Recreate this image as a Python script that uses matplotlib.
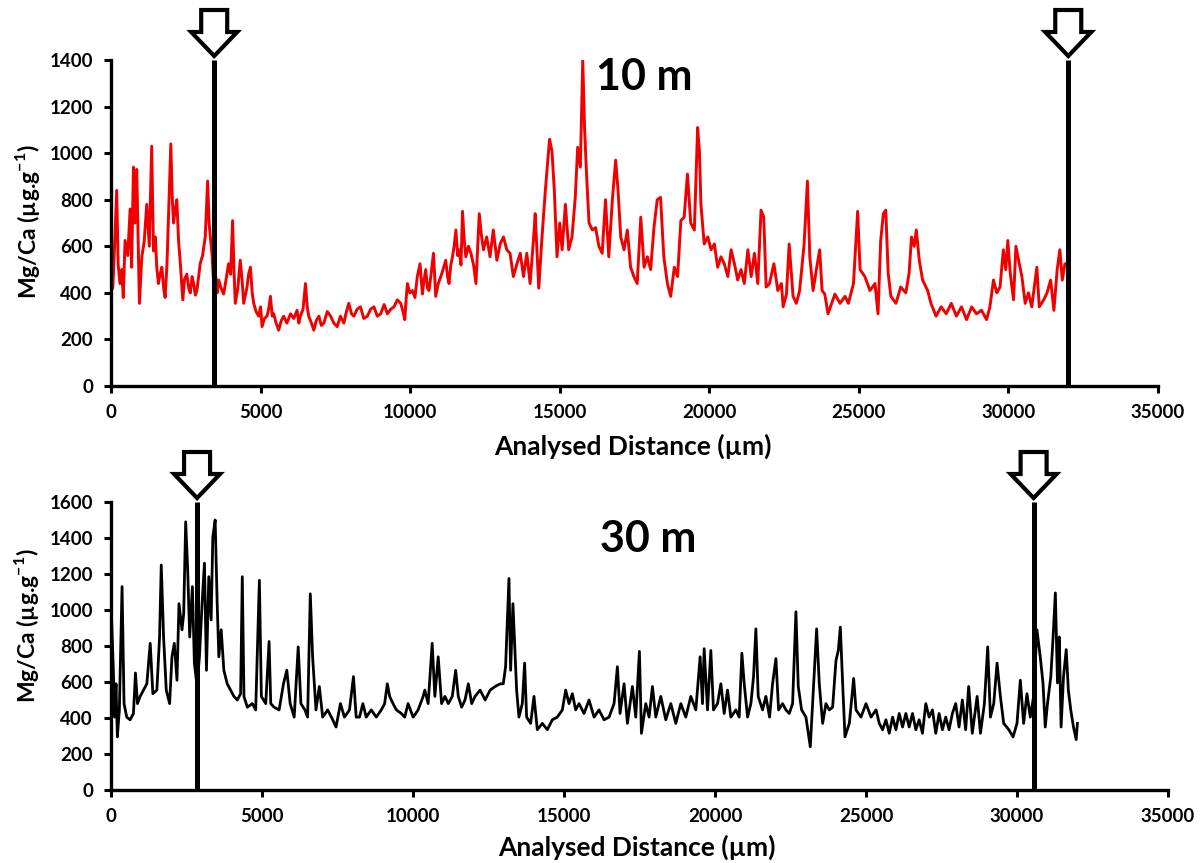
import matplotlib
matplotlib.use("Agg")
import matplotlib.pyplot as plt
import matplotlib.transforms as mtransforms
from matplotlib.patches import Polygon

plt.rcParams['font.family'] = ['Lato', 'DejaVu Sans']
plt.rcParams['font.weight'] = 'bold'
plt.rcParams['mathtext.fontset'] = 'custom'
plt.rcParams['mathtext.rm'] = 'Lato:bold'
plt.rcParams['mathtext.bf'] = 'Lato:bold'

# ---------------- data ----------------
top_x = [0, 60, 120, 190, 240, 300, 360, 410, 470, 560, 640, 690, 750, 800, 860, 910, 950, 1030, 1110, 1195,
         1280, 1360, 1420, 1480, 1530, 1585, 1640, 1700, 1760, 1810, 1870, 1920, 2000, 2050, 2090, 2150, 2200,
         2260, 2310, 2400, 2460, 2535, 2600, 2650, 2710, 2760, 2820, 2870, 2930, 2980, 3060, 3150, 3230, 3280,
         3320, 3380, 3430, 3500, 3550, 3600, 3680, 3765, 3850, 3930, 4000, 4065, 4110, 4155, 4240, 4320, 4380,
         4435, 4540, 4600, 4660, 4720, 4770, 4850, 4935, 5000, 5050, 5130, 5215, 5270, 5330, 5390, 5440, 5520,
         5605, 5690, 5775, 5880, 6000, 6110, 6220, 6280, 6330, 6420, 6500, 6560, 6610, 6700, 6780, 6860, 6950,
         7030, 7115, 7230, 7340, 7450, 7560, 7670, 7785, 7870, 7950, 8040, 8120, 8230, 8340, 8450, 8570, 8680,
         8790, 8900, 9015, 9130, 9240, 9350, 9460, 9570, 9685, 9760, 9820, 9870, 9910, 9990, 10075, 10160,
         10240, 10330, 10410, 10460, 10520, 10580, 10630, 10700, 10780, 10855, 10940, 11025, 11100, 11190,
         11250, 11300, 11360, 11415, 11470, 11530, 11590, 11640, 11700, 11750, 11800, 11860, 11950, 12030,
         12120, 12200, 12260, 12310, 12380, 12450, 12560, 12670, 12780, 12900, 13010, 13120, 13230, 13340,
         13450, 13570, 13680, 13790, 13900, 14010, 14130, 14180, 14300, 14400, 14520, 14660, 14740, 14820,
         14910, 15000, 15080, 15190, 15300, 15410, 15520, 15600, 15690, 15770, 15830, 15900, 15980, 16090,
         16200, 16310, 16420, 16530, 16640, 16760, 16870, 16950, 17040, 17150, 17260, 17370, 17480, 17590,
         17710, 17820, 17930, 18040, 18150, 18260, 18370, 18480, 18600, 18710, 18830, 18940, 19050, 19160,
         19270, 19380, 19500, 19610, 19670, 19720, 19830, 19950, 20060, 20170, 20280, 20390, 20500, 20620,
         20730, 20840, 20950, 21060, 21170, 21290, 21400, 21510, 21620, 21730, 21820, 21900, 22010, 22160,
         22290, 22410, 22470, 22580, 22670, 22800, 22910, 23020, 23170, 23280, 23360, 23470, 23580, 23690,
         23770, 23860, 23970, 24090, 24200, 24370, 24540, 24650, 24820, 24960, 25040, 25200, 25370, 25540,
         25640, 25730, 25820, 25900, 25980, 26070, 26240, 26400, 26570, 26680, 26760, 26850, 26920, 27020,
         27130, 27300, 27410, 27580, 27750, 27920, 28090, 28260, 28430, 28600, 28770, 28930, 29100, 29270,
         29380, 29500, 29610, 29720, 29830, 29910, 29980, 30060, 30170, 30250, 30340, 30450, 30560, 30670,
         30780, 30950, 31030, 31180, 31290, 31410, 31520, 31630, 31720, 31800, 31890, 31970]
top_y = [560, 420, 600, 840, 520, 440, 500, 380, 625, 560, 760, 510, 940, 700, 930, 600, 355, 555, 620, 780,
         600, 1030, 580, 640, 510, 440, 480, 510, 420, 380, 520, 725, 1040, 800, 700, 760, 800,
         620, 540, 370, 460, 480, 420, 400, 470, 440, 390, 410, 470, 525, 560, 640, 880, 700,
         640, 560, 440, 470, 400, 455, 420, 395, 460, 525, 480, 710, 500, 355, 420, 540, 460,
         355, 420, 480, 510, 400, 355, 320, 300, 340, 255, 290, 300, 330, 385, 300, 310, 270,
         240, 280, 300, 270, 310, 290, 325, 270, 300, 330, 440, 340, 300, 270, 240, 280, 300,
         260, 270, 320, 300, 270, 255, 300, 270, 320, 355, 310, 300, 330, 340, 290, 300, 330,
         340, 300, 310, 350, 310, 330, 340, 370, 355, 320, 285, 380, 440, 400, 410, 380,
         470, 525, 395, 450, 500, 420, 410, 480, 570, 385, 440, 470, 500, 540,
         470, 440, 520, 555, 600, 670, 560, 585, 520, 750, 640, 555, 600, 570,
         520, 440, 600, 740, 650, 585, 640, 555, 670, 540, 610, 640, 585, 570,
         470, 525, 570, 470, 570, 440, 640, 740, 420, 625, 840, 1060, 1010, 840,
         555, 700, 585, 780, 585, 640, 810, 1025, 940, 1400, 1110, 900, 700, 670,
         680, 600, 570, 800, 555, 800, 970, 840, 640, 585, 670, 510, 470, 440,
         725, 510, 555, 500, 680, 800, 810, 555, 440, 385, 510, 470, 710, 725,
         910, 700, 670, 1110, 1010, 780, 610, 640, 585, 610, 510, 555, 525, 470,
         585, 525, 455, 500, 440, 585, 470, 570, 440, 755, 725, 425, 440, 525,
         410, 440, 340, 395, 610, 385, 355, 410, 610, 880, 555, 410, 500, 585,
         410, 395, 310, 355, 395, 355, 385, 355, 440, 750, 500, 470, 410, 440,
         310, 625, 740, 755, 485, 385, 355, 425, 400, 485, 640, 600, 670, 540,
         455, 410, 355, 300, 340, 310, 355, 300, 340, 285, 340, 310, 325, 285,
         340, 455, 400, 425, 585, 500, 625, 485, 370, 600, 540, 470, 355, 400,
         340, 510, 340, 370, 400, 455, 325, 500, 585, 455, 525, 510]

bot_x = [0, 20, 78, 122, 166, 210, 277, 366, 432, 521, 632, 743, 810, 876, 965, 1076, 1187, 1298, 1386,
         1519, 1608, 1664, 1741, 1830, 1941, 2018, 2096, 2185, 2251, 2351, 2407, 2473, 2540, 2606, 2695,
         2761, 2850, 2928, 3016, 3094, 3161, 3238, 3316, 3371, 3449, 3516, 3571, 3649, 3737, 3848, 3959,
         4070, 4181, 4292, 4347, 4403, 4514, 4680, 4791, 4913, 4979, 5124, 5234, 5290, 5401, 5567, 5711,
         5822, 5933, 6066, 6199, 6288, 6421, 6510, 6599, 6676, 6787, 6898, 7009, 7175, 7342, 7452, 7597,
         7730, 7896, 8029, 8118, 8229, 8340, 8451, 8617, 8783, 8950, 9061, 9149, 9227, 9338, 9449, 9615,
         9726, 9837, 10003, 10170, 10336, 10391, 10502, 10635, 10724, 10835, 10946, 11057, 11168, 11301,
         11412, 11500, 11611, 11722, 11833, 11944, 12055, 12221, 12388, 12554, 12720, 12887, 12989, 13066,
         13177, 13232, 13309, 13365, 13431, 13508, 13619, 13696, 13762, 13895, 14006, 14116, 14282, 14448,
         14613, 14779, 14945, 15055, 15166, 15276, 15387, 15497, 15663, 15829, 15995, 16160, 16326, 16492,
         16658, 16768, 16856, 16989, 17100, 17265, 17376, 17497, 17564, 17707, 17818, 17928, 18039, 18205,
         18370, 18536, 18702, 18868, 19033, 19199, 19365, 19508, 19586, 19641, 19752, 19862, 19950, 20083,
         20194, 20304, 20415, 20525, 20691, 20801, 20890, 20967, 21078, 21188, 21276, 21354, 21431, 21575,
         21685, 21807, 21906, 22017, 22105, 22238, 22348, 22459, 22569, 22680, 22757, 22868, 23011, 23155,
         23232, 23365, 23453, 23564, 23674, 23785, 23895, 24006, 24083, 24150, 24227, 24304, 24448, 24591,
         24669, 24834, 25000, 25166, 25332, 25440, 25550, 25660, 25770, 25880, 25990, 26100, 26210, 26320,
         26430, 26540, 26650, 26760, 26870, 26980, 27090, 27200, 27310, 27420, 27530, 27640, 27750, 27860,
         27970, 28080, 28190, 28300, 28400, 28520, 28680, 28790, 28920, 29030, 29120, 29230, 29340, 29450,
         29560, 29730, 29870, 30000, 30110, 30220, 30330, 30440, 30550, 30660, 30770, 30860, 30935, 31010,
         31120, 31190, 31270, 31340, 31400, 31460, 31540, 31630, 31700, 31780, 31870, 31960, 32000]
bot_y = [940, 945, 665, 405, 590, 295, 445, 1130, 480, 405, 390, 425, 650, 480, 520, 555, 590, 815, 535,
         555, 850, 1250, 850, 555, 480, 740, 815, 610, 1035, 890, 980, 1490, 1220, 850, 1130,
         705, 575, 740, 1035, 1260, 665, 1185, 945, 1405, 1500, 1035, 740, 890, 665, 590, 555,
         520, 500, 535, 1185, 520, 460, 480, 445, 1165, 520, 480, 825, 480, 460, 445, 590,
         665, 480, 405, 795, 480, 445, 405, 1090, 740, 445, 575, 405, 445, 390, 350, 480,
         405, 445, 630, 405, 405, 480, 405, 445, 405, 445, 480, 590, 520, 480, 445, 425,
         405, 480, 405, 445, 520, 555, 480, 815, 520, 740, 480, 520, 480, 520,
         665, 520, 460, 500, 590, 480, 520, 555, 500, 555, 575, 590, 590, 685,
         1175, 665, 1035, 815, 555, 405, 480, 705, 405, 370, 520, 335, 370, 335,
         390, 405, 445, 555, 480, 535, 445, 480, 425, 500, 405, 445, 390, 405,
         480, 685, 425, 590, 370, 575, 405, 770, 315, 480, 405, 575, 405, 520,
         390, 480, 370, 480, 405, 520, 445, 740, 480, 785, 445, 775, 445, 480,
         590, 425, 555, 405, 445, 405, 760, 590, 405, 480, 630, 895, 520, 445,
         520, 405, 590, 730, 445, 480, 445, 425, 480, 990, 575, 445, 405, 240,
         480, 895, 590, 370, 480, 445, 460, 720, 775, 905, 590, 295, 370, 620,
         445, 405, 480, 405, 445, 370, 335, 390, 315, 405, 335, 425, 350, 425,
         350, 425, 335, 390, 315, 480, 405, 445, 315, 425, 335, 405, 335, 425,
         480, 350, 500, 335, 575, 315, 520, 315, 480, 795, 405, 480, 705, 520,
         370, 335, 295, 370, 610, 370, 535, 405, 520, 890, 740, 595, 350, 480,
         630, 835, 1095, 595, 850, 350, 630, 780, 555, 445, 350, 280, 370]

top_marks = [3450, 32000]
bot_marks = [2850, 30550]
x_ticks = [0, 5000, 10000, 15000, 20000, 25000, 30000, 35000]
top_yticks = [0, 200, 400, 600, 800, 1000, 1200, 1400]
bot_yticks = [0, 200, 400, 600, 800, 1000, 1200, 1400, 1600]
xlabel = "Analysed Distance (µm)"
ylabel = r"Mg/Ca (µg.g$^{-1}$)"

# ---------------- figure ----------------
W, H = 1204, 863
fig = plt.figure(figsize=(W / 100, H / 100), dpi=100)
ax1 = fig.add_axes([111 / W, 1 - 386 / H, 1047 / W, 326 / H])
ax2 = fig.add_axes([111 / W, 1 - 790 / H, 1057 / W, 288 / H])


def style(ax, ymax, yticks):
    ax.set_xlim(0, 35000)
    ax.set_ylim(0, ymax)
    ax.set_xticks(x_ticks)
    ax.set_yticks(yticks)
    for s in ['top', 'right']:
        ax.spines[s].set_visible(False)
    for s in ['left', 'bottom']:
        ax.spines[s].set_linewidth(2.4)
        ax.spines[s].set_color('black')
    ax.tick_params(direction='out', length=5, width=2.2, labelsize=13.5, color='black')
    ax.tick_params(axis='y', pad=8)
    ax.tick_params(axis='x', pad=8)
    for lab in ax.get_xticklabels() + ax.get_yticklabels():
        lab.set_fontweight('bold')


def add_arrow(ax, xd):
    trans = mtransforms.blended_transform_factory(ax.transData, ax.transAxes)
    verts = [(0, 0), (-23, 24), (-13, 24), (-13, 46), (13, 46), (13, 24), (23, 24)]
    t = mtransforms.Affine2D().translate(0, 4) + mtransforms.ScaledTranslation(xd, 1.0, trans)
    p = Polygon(verts, closed=True, transform=t, facecolor='white', edgecolor='black',
                lw=3, clip_on=False, joinstyle='miter', zorder=5)
    ax.add_artist(p)


# top panel
style(ax1, 1400, top_yticks)
ax1.plot(top_x, top_y, color='#f00000', lw=2.1, zorder=2)
for m in top_marks:
    ax1.plot([m, m], [0, 1400], color='black', lw=3.6, zorder=4, solid_capstyle='butt')
    add_arrow(ax1, m)
ax1.text(0.509, 0.948, "10 m", transform=ax1.transAxes, ha='center', va='center',
         fontsize=31, fontweight='bold')
ax1.set_xlabel(xlabel, fontsize=19, fontweight='bold')
ax1.xaxis.set_label_coords(0.498, -0.145)
ax1.set_ylabel(ylabel, fontsize=16.5, fontweight='bold')
ax1.yaxis.set_label_coords(-0.066, 0.505)

# bottom panel
style(ax2, 1600, bot_yticks)
ax2.plot(bot_x, bot_y, color='black', lw=2.0, zorder=2)
for m in bot_marks:
    ax2.plot([m, m], [0, 1600], color='black', lw=3.6, zorder=4, solid_capstyle='butt')
    add_arrow(ax2, m)
ax2.text(0.508, 0.872, "30 m", transform=ax2.transAxes, ha='center', va='center',
         fontsize=31, fontweight='bold')
ax2.set_xlabel(xlabel, fontsize=19, fontweight='bold')
ax2.xaxis.set_label_coords(0.498, -0.155)
ax2.set_ylabel(ylabel, fontsize=16.5, fontweight='bold')
ax2.yaxis.set_label_coords(-0.066, 0.569)

fig.savefig("out.png", dpi=100)
